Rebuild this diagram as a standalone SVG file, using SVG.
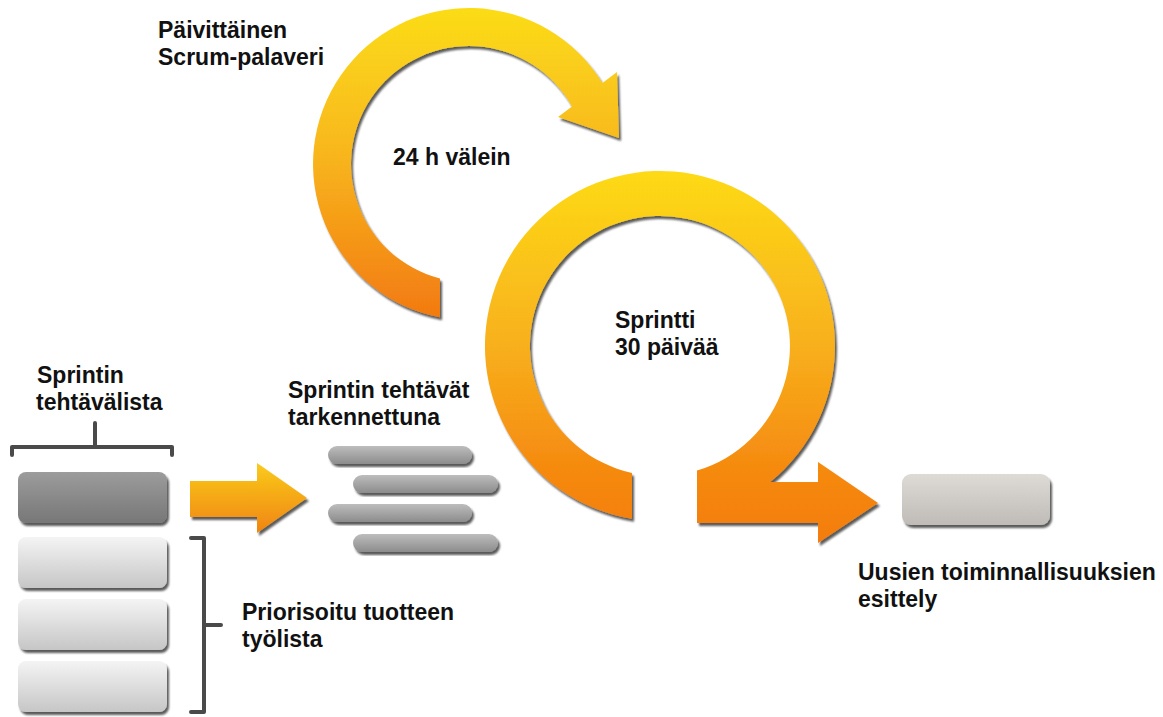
<svg xmlns="http://www.w3.org/2000/svg" width="1163" height="717" viewBox="0 0 1163 717">
<style>
text{font-family:"Liberation Sans",Arial,sans-serif;font-weight:bold;font-size:23px;fill:#111}
.brk{fill:none;stroke:#4a4a4a;stroke-width:4;stroke-linejoin:round;stroke-linecap:round}
.dark{fill:url(#gDark)}
.light{fill:url(#gLight)}
.bar{fill:url(#gBar)}
</style>
<defs>
<linearGradient id="gSmall" gradientUnits="userSpaceOnUse" x1="0" y1="8" x2="0" y2="320">
<stop offset="0" stop-color="#FBDC18"/><stop offset="0.45" stop-color="#F8B81E"/><stop offset="1" stop-color="#F27910"/>
</linearGradient>
<linearGradient id="gBig" gradientUnits="userSpaceOnUse" x1="0" y1="171" x2="0" y2="543">
<stop offset="0" stop-color="#FDDA16"/><stop offset="0.45" stop-color="#F8B21D"/><stop offset="0.8" stop-color="#F58A10"/><stop offset="1" stop-color="#F47C0E"/>
</linearGradient>
<linearGradient id="gArrow" gradientUnits="userSpaceOnUse" x1="0" y1="463" x2="0" y2="533">
<stop offset="0" stop-color="#FACB1C"/><stop offset="1" stop-color="#F08410"/>
</linearGradient>
<linearGradient id="gDark" x1="0" y1="0" x2="0" y2="1">
<stop offset="0" stop-color="#9c9c9c"/><stop offset="1" stop-color="#777"/>
</linearGradient>
<linearGradient id="gLight" x1="0" y1="0" x2="0" y2="1">
<stop offset="0" stop-color="#f4f4f4"/><stop offset="1" stop-color="#c6c6c6"/>
</linearGradient>
<linearGradient id="gBar" x1="0" y1="0" x2="0" y2="1">
<stop offset="0" stop-color="#bdbdbd"/><stop offset="1" stop-color="#8c8c8c"/>
</linearGradient>
<linearGradient id="gBox" x1="0" y1="0" x2="0" y2="1">
<stop offset="0" stop-color="#dedad6"/><stop offset="1" stop-color="#bfbbb7"/>
</linearGradient>
<filter id="sh" x="-10%" y="-10%" width="125%" height="130%">
<feGaussianBlur in="SourceAlpha" stdDeviation="1.2"/>
<feOffset dx="1.5" dy="2.5"/>
<feComponentTransfer><feFuncA type="linear" slope="0.65"/></feComponentTransfer>
<feMerge><feMergeNode/><feMergeNode in="SourceGraphic"/></feMerge>
</filter>
</defs>
<rect width="1163" height="717" fill="#fff"/>

<g id="daily-scrum">
<path d="M440,317.3 A156,156 0 1 1 602.4,83.1 L617,72 L619,138 L558,117 L572,106.4 A118,118 0 1 0 440,278.4 Z" fill="url(#gSmall)" filter="url(#sh)"/>
<text x="158" y="38">Päivittäinen</text>
<text x="158" y="65">Scrum-palaveri</text>
<text x="393" y="165">24 h välein</text>
</g>

<g id="sprint">
<path d="M632,518.75 A175,175 0 1 1 770.1,482 L818,482 L818,462 L878,503 L818,543 L818,523 L697,523 L697,470.6 A130,130 0 1 0 632,472.95 Z" fill="url(#gBig)" filter="url(#sh)"/>
<text x="615" y="328">Sprintti</text>
<text x="615" y="355">30 päivää</text>
</g>

<g id="sprint-backlog">
<path class="brk" d="M12,455 V447 H172 V455 M95,447 V423"/>
<rect class="dark" x="18" y="472" width="149" height="51" rx="8" filter="url(#sh)"/>
<text x="37" y="383">Sprintin</text>
<text x="36" y="410">tehtävälista</text>
</g>

<g id="product-backlog">
<rect class="light" x="18" y="537" width="149" height="51" rx="8" filter="url(#sh)"/>
<rect class="light" x="18" y="599" width="149" height="51" rx="8" filter="url(#sh)"/>
<rect class="light" x="18" y="661" width="149" height="51" rx="8" filter="url(#sh)"/>
<path class="brk" d="M191,538 H204 V712 H191 M204,625 H221"/>
<text x="242" y="620">Priorisoitu tuotteen</text>
<text x="242" y="647">työlista</text>
</g>

<g id="sprint-tasks">
<rect class="bar" x="328" y="446" width="144" height="18" rx="9" filter="url(#sh)"/>
<rect class="bar" x="353" y="475" width="145" height="18" rx="9" filter="url(#sh)"/>
<rect class="bar" x="328" y="504" width="144" height="18" rx="9" filter="url(#sh)"/>
<rect class="bar" x="353" y="534" width="145" height="18" rx="9" filter="url(#sh)"/>
<text x="288" y="398">Sprintin tehtävät</text>
<text x="288" y="425">tarkennettuna</text>
</g>

<g id="increment">
<rect x="902" y="474" width="148" height="51" rx="9" fill="url(#gBox)" filter="url(#sh)"/>
<text x="858" y="580">Uusien toiminnallisuuksien</text>
<text x="858" y="607">esittely</text>
</g>

<g id="connectors">
<path d="M190,481 L257,481 L257,463 L307,498 L257,533 L257,517 L190,517 Z" fill="url(#gArrow)" filter="url(#sh)"/>
</g>
</svg>
